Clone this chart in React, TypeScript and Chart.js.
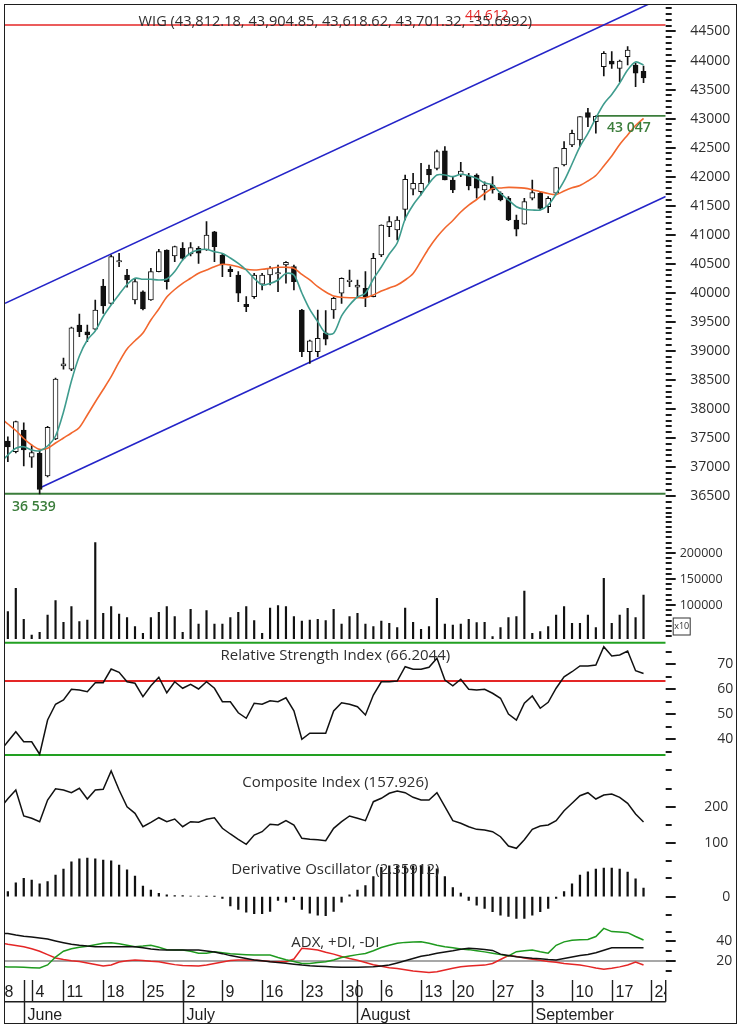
import React, { useEffect, useRef } from 'react';
import { Chart, registerables } from 'chart.js';

Chart.register(...registerables);

// ---------- calendar (trading-session index 0 = 30 May 2012) ----------
const WEEK_TICK_INDEX = [-2, 3, 7, 12, 17, 22, 27, 32, 37, 42, 47, 52, 56, 61, 66, 71, 76, 81];
const WEEK_TICK_LABELS = ['28', '4', '11', '18', '25', '2', '9', '16', '23', '30', '6', '13', '20', '27', '3', '10', '17', '24'];
const MONTH_INDEX = [2, 22, 44, 66];
const MONTH_LABELS = ['June', 'July', 'August', 'September'];

// ---------- WIG daily candles ----------
const OPEN = [37448, 37264, 37638, 37168, 37236, 36845, 37483, 38740, 38683, 39446, 39330, 39372, 40117, 39819, 40531, 40307, 39876, 40019, 39876, 40364, 40737, 40634, 40767, 40668, 40767, 40737, 41052, 40651, 40405, 40307, 39802, 39933, 40147, 40307, 40324, 40479, 40450, 39704, 38986, 38986, 39313, 39704, 39992, 40192, 40095, 40078, 39933, 40651, 41139, 41082, 41438, 41783, 41741, 42127, 42144, 42447, 41943, 42029, 42012, 42029, 41771, 41857, 41714, 41628, 41254, 41180, 41628, 41714, 41483, 41714, 42201, 42545, 42632, 43102, 42947, 43894, 43992, 43866, 44066, 43923, 43812.18];
const HIGH = [37522, 37793, 37763, 37379, 37305, 37700, 38530, 38878, 39410, 39635, 39446, 39876, 40233, 40650, 40681, 40405, 40250, 40035, 40422, 40750, 40740, 40806, 40863, 40863, 40794, 41225, 41060, 40681, 40450, 40364, 39933, 40336, 40336, 40450, 40479, 40536, 40479, 39716, 39187, 39704, 39692, 39923, 40256, 40393, 40221, 40364, 40681, 41170, 41311, 41311, 42029, 42058, 42230, 42201, 42459, 42516, 42000, 42248, 42058, 42050, 41913, 42000, 41741, 41655, 41340, 41628, 41943, 41741, 41655, 42160, 42602, 42804, 43033, 43177, 43047, 44152, 44152, 44009, 44238, 43952, 43904.85];
const LOW = [37092, 37242, 37018, 36995, 36539, 36830, 37470, 38683, 38660, 39244, 39158, 39360, 39647, 39800, 40450, 40095, 39808, 39704, 39870, 40360, 40061, 40536, 40565, 40634, 40508, 40730, 40536, 40278, 40278, 39847, 39675, 39905, 40049, 40135, 40019, 40164, 40049, 38900, 38786, 38900, 39101, 39561, 39819, 40105, 39933, 39761, 39930, 40622, 40966, 40910, 41254, 41684, 41684, 41886, 42115, 41943, 41724, 42000, 41771, 41628, 41598, 41714, 41581, 41242, 40978, 41180, 41598, 41426, 41380, 41710, 42185, 42516, 42516, 42861, 42747, 43734, 43866, 43636, 43923, 43549, 43618.62];
const CLOSE = [37345, 37781, 37293, 37247, 36616, 37684, 38516, 38775, 39399, 39330, 39274, 39704, 39773, 40622, 40540, 40221, 40192, 39721, 40364, 40708, 40192, 40794, 40594, 40777, 40681, 40996, 40794, 40479, 40364, 39992, 39761, 40307, 40307, 40422, 40347, 40526, 40192, 38986, 39175, 39217, 39200, 39906, 40250, 40221, 40135, 39933, 40594, 41168, 41225, 41254, 41955, 41886, 41886, 42029, 42430, 41943, 41771, 42098, 41839, 41800, 41857, 41771, 41598, 41254, 41094, 41569, 41724, 41455, 41628, 42155, 42489, 42747, 43033, 43022, 43040, 44125, 43935, 43992, 44181, 43780, 43701.32];
const LAST_CHANGE = '-35.6992';
const VOLUME = [87200, 132000, 72400, 42300, 47400, 80800, 108300, 66700, 96800, 67900, 71200, 219900, 84000, 96800, 82700, 75600, 58300, 45500, 75600, 85900, 96800, 77600, 47400, 91700, 63500, 89100, 63500, 63500, 75600, 85900, 96800, 69900, 45500, 94200, 98700, 96800, 77600, 69200, 71200, 72400, 69900, 91700, 63500, 77600, 84000, 63500, 58300, 69200, 64700, 56400, 94200, 66700, 53200, 58300, 112800, 63500, 61500, 63500, 72400, 66000, 66700, 39100, 56400, 75600, 77600, 126900, 45500, 48700, 58300, 80800, 96800, 64700, 64700, 80800, 56400, 151300, 64700, 80800, 93600, 75600, 119200];

// ---------- overlays (line series start one session before the first visible candle) ----------
const LINE_START = -1;
const MA_SHORT = [37070, 37207, 37323, 37350, 37293, 37281, 37362, 37534, 37948, 38482, 38912, 39188, 39343, 39592, 39790, 39971, 40143, 40250, 40233, 40233, 40221, 40238, 40367, 40565, 40686, 40737, 40749, 40708, 40677, 40600, 40505, 40393, 40250, 40135, 40161, 40221, 40333, 40307, 39997, 39713, 39503, 39303, 39303, 39601, 39790, 39928, 39992, 40238, 40445, 40668, 40858, 41271, 41512, 41693, 41883, 42029, 42029, 42000, 42041, 42017, 41972, 41891, 41857, 41714, 41598, 41483, 41438, 41426, 41426, 41512, 41702, 41926, 42218, 42516, 42747, 43010, 43252, 43415, 43613, 43837, 43975, 43923];
const MA_LONG = [37853, 37741, 37629, 37491, 37379, 37305, 37323, 37414, 37500, 37586, 37681, 37896, 38120, 38335, 38556, 38809, 39033, 39175, 39308, 39532, 39721, 39928, 40057, 40164, 40250, 40336, 40393, 40450, 40491, 40479, 40448, 40405, 40393, 40405, 40422, 40439, 40439, 40422, 40316, 40221, 40105, 40014, 39945, 39923, 39916, 39916, 39916, 39962, 40031, 40083, 40135, 40221, 40333, 40548, 40772, 40961, 41116, 41245, 41392, 41512, 41607, 41710, 41796, 41805, 41815, 41812, 41802, 41776, 41741, 41710, 41690, 41753, 41808, 41848, 41926, 42020, 42184, 42356, 42554, 42718, 42881, 43005];
const LEVEL_HIGH = 44612;
const LEVEL_LOW = 36539;
const LEVEL_GAP = 43047;
const LEVEL_GAP_START = 74;
const CHANNEL_UPPER = [[-0.36, 39820], [82.79, 45108]];
const CHANNEL_LOWER = [[4, 36640], [82.79, 41659]];

// ---------- indicators ----------
const RSI = [35, 39, 42.9, 38.9, 38.9, 33.9, 47.6, 53.9, 55.6, 59.9, 59.6, 58.9, 62.5, 62.5, 68.0, 66.7, 62.9, 62.3, 56.9, 61.3, 64.7, 58.5, 62.9, 60.3, 61.9, 60.0, 62.9, 60.3, 54.9, 54.9, 50.5, 48.3, 54.3, 53.9, 55.3, 54.9, 56.5, 51.3, 39.9, 42.3, 42.3, 42.3, 51.2, 54.5, 53.9, 52.9, 49.6, 57.6, 62.9, 62.9, 63.2, 68.9, 67.9, 67.9, 68.7, 72.3, 63.6, 61.3, 63.9, 59.9, 59.6, 59.9, 58.3, 56.3, 50.0, 47.6, 54.3, 57.2, 52.3, 54.7, 60.3, 64.9, 66.9, 69.2, 69.2, 69.6, 76.9, 73.2, 73.6, 75.2, 67.3, 66.2044];
const RSI_LEVELS = [78.5, 63.2, 33.6];
const COMPOSITE = [195, 222, 246, 174.4, 168, 158.7, 218.4, 249.5, 246, 238.6, 250.6, 221.2, 246, 247.9, 298.3, 246, 200, 181.7, 145, 157, 169.7, 158.7, 166.1, 145, 158.7, 157, 165.3, 169.7, 140.5, 124.9, 110.2, 96.5, 122.1, 131.2, 151.5, 149.6, 161.5, 149.6, 113, 110.2, 109.2, 106.4, 140.5, 158.7, 174.4, 168, 161.5, 213.8, 223.1, 236.9, 243.2, 238.6, 225.9, 218.4, 218.4, 238.6, 200, 161.5, 154.3, 145, 137.7, 135.9, 131.2, 117.4, 91.8, 85.5, 109.2, 137.7, 146.9, 149.6, 161.5, 189, 209.4, 230.3, 238.6, 221.2, 232.2, 235, 225.9, 209.4, 179.9, 157.926];
const DERIVATIVE = [1.4, 3.8, 5.0, 4.5, 3.5, 4.1, 5.9, 7.5, 9.5, 10.3, 10.5, 10.3, 10.0, 9.8, 8.6, 7.3, 5.6, 2.9, 1.8, 0.9, 0.5, 0.3, 0.3, 0.2, 0.2, 0.1, 0.1, -0.5, -2.5, -3.5, -4.2, -4.6, -4.6, -4.0, -1.0, -1.5, -0.8, -3.5, -4.5, -5.0, -5.2, -4.0, -1.5, 0.5, 1.8, 3.0, 5.5, 8.0, 8.4, 8.4, 8.4, 8.4, 8.4, 8.2, 7.6, 5.5, 2.5, 1.0, -1.0, -2.3, -3.2, -4.1, -5.0, -5.4, -5.9, -5.9, -5.0, -4.1, -3.2, -0.5, 1.4, 3.5, 5.9, 6.8, 7.5, 7.8, 7.8, 7.5, 6.7, 4.9, 2.35912];
const ADX = [48.5, 48, 46.5, 45.2, 44.5, 43.5, 42.4, 40.5, 38.7, 37, 36, 35.2, 34.6, 34.6, 34.6, 34.6, 34.6, 34.6, 33.5, 32.2, 31.6, 31.2, 31.2, 31.2, 31.2, 31.2, 30.2, 29.2, 27.5, 25.5, 24, 22.5, 21, 20.2, 19.2, 18.5, 17.8, 16.8, 15.9, 15.2, 14.7, 14.3, 14.0, 13.7, 13.5, 13.6, 13.9, 14.2, 15, 15.9, 18, 20.2, 22.5, 24.8, 26.1, 27.8, 29.2, 30.5, 32, 32.9, 32.5, 31.8, 30.8, 27, 25.5, 24.4, 23.5, 22.7, 22.2, 21.5, 21, 22.5, 24, 25.5, 26.6, 28.5, 31, 33.4, 33.6, 33.6, 33.6, 33.6];
const PLUS_DI = [14.2, 14, 13.8, 13.5, 13.2, 12.8, 16, 24, 30, 32.5, 34, 35, 36.5, 38, 38.7, 37.5, 36, 34.6, 35.2, 36, 34, 31.5, 31.2, 31.2, 30, 28, 28, 29.5, 28.5, 27.3, 26.8, 26.4, 26.1, 26.1, 26.1, 23.5, 21.2, 19.5, 17.5, 17.5, 18.5, 19.3, 21, 23.5, 25, 26.5, 27.6, 30.5, 33.8, 36, 38.2, 39, 39.3, 39.7, 38, 36, 34.5, 33.5, 32.3, 31.6, 30.5, 29.3, 28, 26.5, 25.2, 29.5, 30.5, 31.2, 29.5, 28, 36, 39.5, 41.2, 41.6, 42, 45, 53.3, 50, 49.5, 48.9, 45, 41.4];
const MINUS_DI = [38.5, 37, 35.8, 34.6, 32.5, 30, 26.5, 23, 21.5, 20.2, 19.5, 18, 16.5, 14.8, 16, 19, 20.3, 21, 20.5, 19.8, 19.3, 17.8, 16.3, 15.5, 15.2, 14.9, 16, 17.5, 19, 20.6, 21, 21, 21, 20.3, 19.5, 19.3, 19.3, 22, 32.9, 32.2, 31.3, 29, 27, 24.5, 22.5, 20.8, 18.5, 16.2, 14.6, 13.2, 12.3, 11, 9.8, 9, 8.3, 9, 10.8, 12.5, 14.2, 14.8, 15.3, 15.8, 17.5, 21.5, 25.5, 24.5, 23, 21.8, 20.8, 19.6, 18.8, 17.5, 16.8, 16, 14.5, 12.8, 11.5, 12.5, 14, 16, 19, 15.9];
const ADX_LEVEL = 20;

// ---------- right-axis tick labels ----------
const PRICE_LABELS = [36500, 37000, 37500, 38000, 38500, 39000, 39500, 40000, 40500, 41000, 41500, 42000, 42500, 43000, 43500, 44000, 44500];
const VOLUME_LABELS = [100000, 150000, 200000];
const RSI_LABELS = [40, 50, 60, 70];
const COMPOSITE_LABELS = [100, 200];
const DERIVATIVE_LABELS = [0];
const ADX_LABELS = [20, 40];

// ---------- layout ----------
const W = 739;
const AXIS_W = 73.3;
const PLOT_LEFT = 5;
const X_MIN = -0.36;
const X_MAX = 82.79;
const PAD = 64;
const FONT = '"Open Sans", "Noto Sans", "DejaVu Sans", sans-serif';
const DATE_FONT = '"Liberation Sans", Arial, sans-serif';
const INK = '#2e2e2e';
const GREEN_DARK = '#3b7d3b';
const GREEN = '#22a022';
const RED = '#e42626';
const TITLE_FONT = `15px ${FONT}`;

const fmt2 = (v: number) => v.toLocaleString('en-US', { minimumFractionDigits: 2, maximumFractionDigits: 2 });
const fmtSpace = (v: number) => String(v).replace(/\B(?=(\d{3})+$)/, ' ');
const pts = (arr: number[], start: number) => arr.map((v, k) => ({ x: start + k, y: v }));
const seg = (a: number[][]) => a.map(([x, y]) => ({ x, y }));

function range(min: number, max: number, step: number) {
  const out: number[] = [];
  for (let v = Math.ceil(min / step) * step; v <= max + 1e-9; v += step) out.push(Math.round(v * 1000) / 1000);
  return out;
}

function drawText(ctx: any, text: string, x: number, y: number, font: string, color: string, align = 'center') {
  ctx.save();
  ctx.font = font;
  ctx.fillStyle = color;
  ctx.textAlign = align;
  ctx.textBaseline = 'middle';
  ctx.fillText(text, x, y);
  ctx.restore();
}

// axis dashes: every tick of the y scale, longer where the value is labelled
function tickMarks(tickValues: number[], labels: number[]) {
  return {
    id: 'tickMarks',
    afterDraw(chart: any) {
      const s = chart.scales.y;
      const ctx = chart.ctx;
      const x0 = chart.chartArea.right;
      ctx.save();
      ctx.fillStyle = '#1a1a1a';
      tickValues.forEach((v) => {
        if (v < s.min || v > s.max) return;
        const y = Math.round(s.getPixelForValue(v));
        ctx.fillRect(x0, y - 1, labels.includes(v) ? 10 : 6, 2);
      });
      ctx.restore();
    },
  };
}

function makeAxis(o: { min: number; max: number; ticks: number[]; labels: number[]; pad: number; size: number }) {
  return {
    type: 'linear',
    position: 'right',
    min: o.min,
    max: o.max,
    afterFit: (s: any) => {
      s.width = AXIS_W;
    },
    afterBuildTicks: (s: any) => {
      s.ticks = o.ticks.filter((v) => v >= o.min && v <= o.max).map((v) => ({ value: v }));
    },
    border: { display: false },
    grid: { drawOnChartArea: false, drawTicks: true, tickLength: 8, tickColor: 'rgba(0,0,0,0)' },
    ticks: {
      autoSkip: false,
      padding: o.pad,
      crossAlign: 'near',
      color: INK,
      font: { family: FONT, size: o.size },
      callback: (v: number) => (o.labels.includes(v) ? String(v) : ''),
    },
  };
}

function lineDs(data: any[], color: string, width: number, order: number, extra: any = {}) {
  return { type: 'line', data, borderColor: color, backgroundColor: color, borderWidth: width, pointRadius: 0, tension: 0, fill: false, order, ...extra };
}

function options(yAxis: any) {
  return {
    responsive: false,
    animation: false,
    events: [],
    layout: { padding: { left: PLOT_LEFT, right: 0, top: PAD, bottom: PAD } },
    plugins: { legend: { display: false }, tooltip: { enabled: false }, title: { display: false } },
    scales: {
      x: { type: 'linear', min: X_MIN, max: X_MAX, display: false, offset: false },
      y: yAxis,
    },
  };
}

const hLine = (v: number, color: string, width: number, order: number, from = X_MIN) =>
  lineDs([{ x: from, y: v }, { x: X_MAX, y: v }], color, width, order);

// ---------- panels (plot area, page pixels) ----------
const PANELS = [
  { top: 5, bottom: 515 },
  { top: 515, bottom: 639 },
  { top: 641, bottom: 757 },
  { top: 757, bottom: 925 },
  { top: 850, bottom: 925 },
  { top: 925, bottom: 978 },
];

const PRICE_TICKS = range(36200, 44900, 100);
const VOLUME_TICKS = range(40000, 270000, 10000);
const RSI_TICKS = range(35, 75, 5);
const COMPOSITE_TICKS = range(50, 300, 50);
const DERIVATIVE_TICKS = range(-5, 5, 5);
const ADX_TICKS = range(10, 50, 10);

function mainConfig(): any {
  const last = OPEN.length - 1;
  const title = `WIG (${fmt2(OPEN[last])}, ${fmt2(HIGH[last])}, ${fmt2(LOW[last])}, ${fmt2(CLOSE[last])}, ${LAST_CHANGE})`;
  return {
    type: 'bar',
    data: {
      datasets: [
        lineDs(pts(MA_SHORT, LINE_START), '#3f9c8e', 1.6, 1, { tension: 0.3 }),
        lineDs(pts(MA_LONG, LINE_START), '#f2672e', 1.6, 2, { tension: 0.3 }),
        {
          type: 'bar',
          data: OPEN.map((o, i) => ({ x: i, y: [o, CLOSE[i]] })),
          backgroundColor: OPEN.map((o, i) => (CLOSE[i] >= o ? '#ffffff' : '#111111')),
          borderColor: '#111111',
          borderWidth: 1,
          borderSkipped: false,
          barThickness: 5,
          grouped: false,
          minBarLength: 1.5,
          order: 3,
        },
        { type: 'bar', data: LOW.map((l, i) => ({ x: i, y: [l, HIGH[i]] })), backgroundColor: '#111111', borderWidth: 0, barThickness: 1, grouped: false, order: 4 },
        lineDs(seg(CHANNEL_UPPER), '#2424c8', 1.6, 5),
        lineDs(seg(CHANNEL_LOWER), '#2424c8', 1.6, 5),
        hLine(LEVEL_HIGH, RED, 1.6, 6),
        hLine(LEVEL_LOW, GREEN_DARK, 2, 6),
        hLine(LEVEL_GAP, GREEN_DARK, 1.6, 6, LEVEL_GAP_START),
      ],
    },
    options: options(makeAxis({ min: 36174, max: 44956, ticks: PRICE_TICKS, labels: PRICE_LABELS, pad: 16.5, size: 14 })),
    plugins: [
      tickMarks(PRICE_TICKS, PRICE_LABELS),
      {
        id: 'mainText',
        afterDraw(chart: any) {
          const { ctx, chartArea: ca, scales } = chart;
          const y = scales.y;
          const cx = (ca.left + ca.right) / 2;
          drawText(ctx, fmtSpace(LEVEL_HIGH), 465, y.getPixelForValue(LEVEL_HIGH) - 9, `14px ${FONT}`, RED, 'left');
          drawText(ctx, title, cx, ca.top + 17, `14.6px ${FONT}`, INK);
          drawText(ctx, fmtSpace(LEVEL_GAP), 607, y.getPixelForValue(LEVEL_GAP) + 12, `600 14px ${FONT}`, GREEN_DARK, 'left');
          drawText(ctx, fmtSpace(LEVEL_LOW), 12, y.getPixelForValue(LEVEL_LOW) + 13, `600 14px ${FONT}`, GREEN_DARK, 'left');
        },
      },
    ],
  };
}

function volumeConfig(): any {
  return {
    type: 'bar',
    data: { datasets: [{ type: 'bar', data: VOLUME.map((v, i) => ({ x: i, y: v })), backgroundColor: '#111111', borderWidth: 0, barThickness: 1.5, grouped: false }] },
    options: options(makeAxis({ min: 34615, max: 273077, ticks: VOLUME_TICKS, labels: VOLUME_LABELS, pad: 6, size: 12.5 })),
    plugins: [
      tickMarks(VOLUME_TICKS, VOLUME_LABELS),
      {
        id: 'volText',
        afterDraw(chart: any) {
          const { ctx, chartArea: ca } = chart;
          ctx.save();
          ctx.strokeStyle = '#333';
          ctx.lineWidth = 1;
          ctx.fillStyle = '#fff';
          ctx.fillRect(ca.right + 7.5, ca.bottom - 21, 17, 17);
          ctx.strokeRect(ca.right + 7.5, ca.bottom - 21, 17, 17);
          ctx.restore();
          drawText(ctx, 'x10', ca.right + 16, ca.bottom - 12.5, `9px ${FONT}`, INK);
        },
      },
    ],
  };
}

function rsiConfig(): any {
  return {
    type: 'line',
    data: { datasets: [lineDs(pts(RSI, LINE_START), '#111111', 1.5, 1), hLine(RSI_LEVELS[0], GREEN, 2, 2), hLine(RSI_LEVELS[1], RED, 2, 2), hLine(RSI_LEVELS[2], GREEN, 2, 2)] },
    options: options(makeAxis({ min: 32.8, max: 79.2, ticks: RSI_TICKS, labels: RSI_LABELS, pad: 43.5, size: 14 })),
    plugins: [
      tickMarks(RSI_TICKS, RSI_LABELS),
      {
        id: 'rsiText',
        afterDraw(chart: any) {
          const { ctx, chartArea: ca } = chart;
          drawText(ctx, `Relative Strength Index (${RSI[RSI.length - 1]})`, (ca.left + ca.right) / 2, ca.top + 15, TITLE_FONT, INK);
        },
      },
    ],
  };
}

function compositeConfig(): any {
  return {
    type: 'line',
    data: { datasets: [lineDs(pts(COMPOSITE, LINE_START), '#111111', 1.5, 1)] },
    options: options(makeAxis({ min: -125.6, max: 336.8, ticks: COMPOSITE_TICKS, labels: COMPOSITE_LABELS, pad: 30.5, size: 14 })),
    plugins: [
      tickMarks(COMPOSITE_TICKS, COMPOSITE_LABELS),
      {
        id: 'compText',
        afterDraw(chart: any) {
          const { ctx, chartArea: ca } = chart;
          drawText(ctx, `Composite Index (${COMPOSITE[COMPOSITE.length - 1]})`, (ca.left + ca.right) / 2, ca.top + 26, TITLE_FONT, INK);
        },
      },
    ],
  };
}

function derivativeConfig(): any {
  return {
    type: 'bar',
    data: { datasets: [{ type: 'bar', data: DERIVATIVE.map((v, i) => ({ x: i, y: v })), backgroundColor: '#111111', borderWidth: 0, barThickness: 1.6, grouped: false }] },
    options: options(makeAxis({ min: -7.71, max: 12.72, ticks: DERIVATIVE_TICKS, labels: DERIVATIVE_LABELS, pad: 48.5, size: 14 })),
    plugins: [
      tickMarks(DERIVATIVE_TICKS, DERIVATIVE_LABELS),
      {
        id: 'derText',
        afterDraw(chart: any) {
          const { ctx, chartArea: ca } = chart;
          drawText(ctx, `Derivative Oscillator (${DERIVATIVE[DERIVATIVE.length - 1]})`, (ca.left + ca.right) / 2, ca.top + 20, TITLE_FONT, INK);
        },
      },
    ],
  };
}

function adxConfig(): any {
  return {
    type: 'line',
    data: {
      datasets: [
        hLine(ADX_LEVEL, '#8a8a8a', 1.5, 5),
        lineDs(pts(ADX, LINE_START), '#111111', 1.5, 1),
        lineDs(pts(PLUS_DI, LINE_START), '#1f9a1f', 1.5, 2),
        lineDs(pts(MINUS_DI, LINE_START), RED, 1.5, 3),
      ],
    },
    options: options(makeAxis({ min: 2.65, max: 56.73, ticks: ADX_TICKS, labels: ADX_LABELS, pad: 42.5, size: 14 })),
    plugins: [
      tickMarks(ADX_TICKS, ADX_LABELS),
      {
        id: 'adxText',
        afterDraw(chart: any) {
          const { ctx, chartArea: ca, scales } = chart;
          const xs = scales.x;
          drawText(ctx, 'ADX, +DI, -DI', (ca.left + ca.right) / 2, ca.top + 17.5, TITLE_FONT, INK);
          const top = ca.bottom + 2;
          const mid = ca.bottom + 23.7;
          const bot = ca.bottom + 46;
          ctx.save();
          ctx.strokeStyle = '#1e1e1e';
          ctx.lineWidth = 1.4;
          ctx.beginPath();
          ctx.moveTo(ca.left, mid);
          ctx.lineTo(ca.right, mid);
          ctx.moveTo(ca.right, top);
          ctx.lineTo(ca.right, mid);
          ctx.stroke();
          ctx.beginPath();
          ctx.rect(ca.left, top - 1, ca.right - ca.left, bot - top + 2);
          ctx.clip();
          ctx.fillStyle = '#1e1e1e';
          ctx.font = `16px ${DATE_FONT}`;
          ctx.textAlign = 'left';
          ctx.textBaseline = 'alphabetic';
          WEEK_TICK_INDEX.forEach((idx, k) => {
            const x = Math.round(xs.getPixelForValue(idx)) + 0.5;
            ctx.beginPath();
            ctx.moveTo(x, top);
            ctx.lineTo(x, mid);
            ctx.stroke();
            ctx.fillText(WEEK_TICK_LABELS[k], x + 3, ca.bottom + 18.7);
          });
          MONTH_INDEX.forEach((idx, k) => {
            const x = Math.round(xs.getPixelForValue(idx)) + 0.5;
            ctx.beginPath();
            ctx.moveTo(x, top);
            ctx.lineTo(x, bot);
            ctx.stroke();
            ctx.fillText(MONTH_LABELS[k], x + 3, ca.bottom + 42);
          });
          ctx.restore();
        },
      },
    ],
  };
}

const BUILDERS = [mainConfig, volumeConfig, rsiConfig, compositeConfig, derivativeConfig, adxConfig];

export default function App() {
  const r0 = useRef<HTMLCanvasElement>(null);
  const r1 = useRef<HTMLCanvasElement>(null);
  const r2 = useRef<HTMLCanvasElement>(null);
  const r3 = useRef<HTMLCanvasElement>(null);
  const r4 = useRef<HTMLCanvasElement>(null);
  const r5 = useRef<HTMLCanvasElement>(null);
  const refs = [r0, r1, r2, r3, r4, r5];

  useEffect(() => {
    const charts = refs.map((r, k) => new Chart(r.current as HTMLCanvasElement, BUILDERS[k]()));
    return () => charts.forEach((c) => c.destroy());
  }, []);

  return (
    <div style={{ position: 'absolute', left: 0, top: 0, width: W, height: 1029, background: '#fff', overflow: 'hidden' }}>
      {PANELS.map((p, k) => {
        const h = p.bottom - p.top + 2 * PAD;
        return (
          <canvas
            key={k}
            ref={refs[k]}
            width={W}
            height={h}
            style={{ position: 'absolute', left: 0, top: p.top - PAD, width: W, height: h }}
          />
        );
      })}
      <div
        style={{ position: 'absolute', left: 4, top: 4, width: 733, height: 1020, border: '1.5px solid #1e1e1e', boxSizing: 'border-box', pointerEvents: 'none' }}
      />
    </div>
  );
}
